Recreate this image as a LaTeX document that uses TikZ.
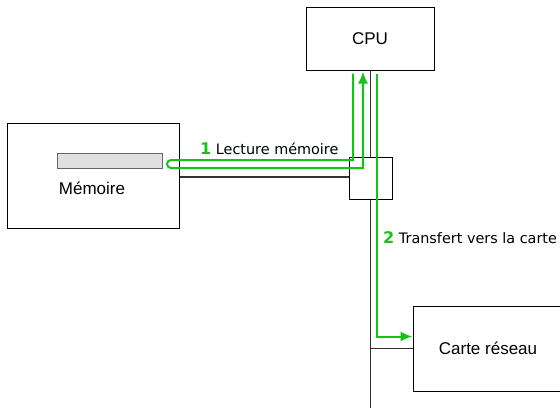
\documentclass[tikz,border=0pt]{standalone}
\usepackage{fontspec}
\setmainfont{DejaVu Sans}
\newfontfamily\boxfont{Liberation Sans}
\usepackage{tikz}
\usetikzlibrary{arrows.meta,calc,positioning}
\definecolor{busgreen}{RGB}{20,196,20}
\tikzstyle{unit} = [rectangle, draw=black, line width=1pt, font=\boxfont\fontsize{17}{19}\selectfont]
\tikzstyle{slot} = [rectangle, draw=black!60, fill=black!12, line width=0.8pt, minimum width=105pt, minimum height=15pt, inner sep=0pt]
\tikzstyle{wire} = [line width=1.3pt, draw=black!80]
\tikzstyle{flow} = [line width=2pt, draw=busgreen]
\tikzstyle{arrow} = [flow, -{Latex[length=12pt,width=10pt]}]
\tikzstyle{step label} = [anchor=base west, inner sep=0pt, font=\fontsize{14.4}{16}\selectfont]

\begin{document}
\begin{tikzpicture}[x=1pt, y=-1pt]
\useasboundingbox (0,0) rectangle (560,410);

\node (cpu) [unit, minimum width=128pt, minimum height=63pt] at (370,38.5) {CPU};
\node (mem) [unit, minimum width=172pt, minimum height=105pt] at (93,175.5) {};
\node (slot) [slot] at (109.5,160.5) {};
\node (memtext) [font=\boxfont\fontsize{17}{19}\selectfont] at (92,188) {Mémoire};
\node (bus) [rectangle, draw=black, line width=1pt, minimum width=43pt, minimum height=42pt] at (370.5,178) {};
\node (nic) [unit, minimum width=150pt, minimum height=85pt] at (488,348.5) {};
\node (nictext) [font=\boxfont\fontsize{17}{19}\selectfont] at (nic) {Carte réseau};
\coordinate (busend) at (370.5,408);

% bus
\draw [wire] (cpu.south -| bus.north) -- (bus.north);
\draw [wire] (mem.east |- 0,177) -- (bus.west |- 0,177);
\draw [wire] (bus.south) -- (busend);
\draw [wire] (bus.south |- nic.west) -- (nic.west);

% 1 : lecture memoire
\draw [arrow] ([xshift=-17pt,yshift=-3pt]cpu.south) |- (171,160) arc (270:90:4) -- (363,168) -- ([xshift=-7pt,yshift=-1pt]cpu.south);
\node (lbl1) [step label] at (200,154) {{\color{busgreen}\bfseries\fontsize{16}{16}\selectfont 1} Lecture mémoire};

% 2 : transfert
\draw [arrow] ([xshift=7pt,yshift=-3pt]cpu.south) |- ([yshift=12pt]nic.west);
\node (lbl2) [step label] at (383,243) {{\color{busgreen}\bfseries\fontsize{16}{16}\selectfont 2} Transfert vers la carte};

\end{tikzpicture}
\end{document}
